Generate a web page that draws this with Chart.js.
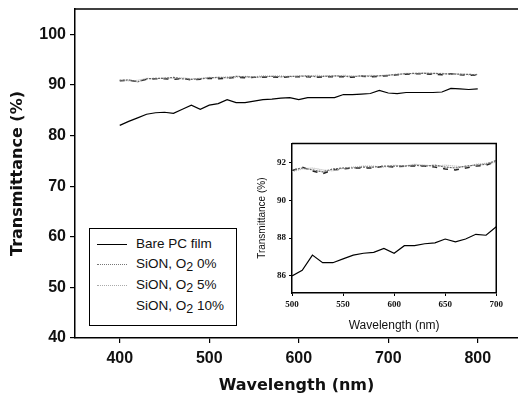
<!DOCTYPE html>
<html>
<head>
<meta charset="utf-8">
<script src="https://cdn.jsdelivr.net/npm/chart.js"></script>
<style>
  body { margin: 0; background: #fff; }
  #wrap { position: relative; width: 518px; height: 404px; overflow: hidden; }
  #mainChart { position: absolute; left: 0; top: 0; }
  #insetChart { position: absolute; left: 252px; top: 135px; background: #fff; }
  #legend {
    position: absolute; left: 89px; top: 228px; width: 146px; height: 96px;
    border: 1.5px solid #000; background: #fff;
    font-family: "Liberation Sans", Arial, sans-serif; font-size: 13.5px; color: #111;
  }
  .row { position: absolute; left: 0; height: 16px; line-height: 16px; white-space: nowrap; }
  .sample { position: absolute; left: 7px; top: 8px; width: 30px; height: 0; }
  .label { position: absolute; left: 46px; top: 0; }
  .label sub { font-size: 12.5px; vertical-align: -3px; line-height: 0; }
</style>
</head>
<body>
<div id="wrap">
  <canvas id="mainChart" width="518" height="404"></canvas>
  <canvas id="insetChart" width="254" height="202"></canvas>
  <div id="legend"></div>
</div>
<script>
// main plot
const mainWl = [400, 410, 420, 430, 440, 450, 460, 470, 480, 490, 500, 510, 520, 530, 540, 550, 560, 570, 580, 590, 600,
                610, 620, 630, 640, 650, 660, 670, 680, 690, 700, 710, 720, 730, 740, 750, 760, 770, 780, 790, 800];
const mainBare = [82.0, 82.8, 83.5, 84.2, 84.5, 84.6, 84.4, 85.2, 86.0, 85.2, 86.0, 86.3, 87.1, 86.5, 86.5, 86.8, 87.1, 87.2, 87.4, 87.5, 87.1,
                  87.5, 87.5, 87.5, 87.5, 88.1, 88.1, 88.2, 88.3, 88.9, 88.4, 88.3, 88.5, 88.5, 88.5, 88.5, 88.6, 89.3, 89.2, 89.1, 89.2];
const mainSiON0 = [90.9, 91.0, 90.6, 91.2, 91.3, 91.3, 91.5, 91.2, 91.1, 91.2, 91.4, 91.5, 91.4, 91.7, 91.6, 91.5, 91.6, 91.7, 91.6, 91.7, 91.7,
                   91.8, 91.6, 91.7, 91.8, 91.7, 91.6, 91.8, 91.7, 91.8, 91.9, 92.1, 92.2, 92.3, 92.3, 92.3, 92.2, 92.2, 92.1, 92.1, 92.0];
const mainSiON5 = [91.0, 90.8, 90.9, 91.3, 91.2, 91.4, 91.3, 91.4, 91.2, 91.3, 91.5, 91.4, 91.6, 91.5, 91.7, 91.6, 91.8, 91.7, 91.8, 91.6, 91.8,
                   91.7, 91.9, 91.8, 91.7, 91.9, 91.8, 91.7, 91.9, 91.8, 92.0, 92.0, 92.3, 92.2, 92.4, 92.2, 92.3, 92.1, 92.2, 92.0, 92.1];
const mainSiON10 = [90.8, 90.9, 90.7, 91.1, 91.2, 91.2, 91.1, 91.3, 91.0, 91.1, 91.3, 91.2, 91.3, 91.5, 91.4, 91.5, 91.5, 91.6, 91.5, 91.6, 91.6,
                    91.6, 91.5, 91.6, 91.6, 91.6, 91.5, 91.7, 91.6, 91.7, 91.8, 92.0, 92.1, 92.2, 92.2, 92.1, 92.0, 92.2, 92.0, 91.9, 92.0];
const mainXTicks = [400, 500, 600, 700, 800];
const mainYTicks = [40, 50, 60, 70, 80, 90, 100];

// inset (500-700 nm zoom)
const insetWl = [500, 510, 520, 530, 540, 550, 560, 570, 580, 590, 600, 610, 620, 630, 640, 650, 660, 670, 680, 690, 700];
const insetBare = [86.0, 86.3, 87.1, 86.7, 86.7, 86.9, 87.1, 87.2, 87.25, 87.45, 87.2, 87.6, 87.6, 87.7, 87.75, 87.95, 87.8, 87.95, 88.2, 88.15, 88.6];
const insetSiON0 = [91.6, 91.7, 91.6, 91.5, 91.65, 91.7, 91.7, 91.75, 91.75, 91.8, 91.8, 91.8, 91.85, 91.8, 91.85, 91.75, 91.7, 91.8, 91.85, 91.9, 92.1];
const insetSiON5 = [91.5, 91.65, 91.7, 91.6, 91.55, 91.7, 91.75, 91.8, 91.8, 91.75, 91.85, 91.8, 91.9, 91.85, 91.8, 91.85, 91.8, 91.75, 91.9, 91.95, 92.0];
const insetSiON10 = [91.55, 91.75, 91.55, 91.4, 91.6, 91.65, 91.7, 91.7, 91.7, 91.8, 91.75, 91.8, 91.8, 91.8, 91.75, 91.65, 91.6, 91.7, 91.8, 91.85, 92.05];
const insetXTicks = [500, 550, 600, 650, 700];
const insetYTicks = [86, 88, 90, 92];

const seriesNames = ["Bare PC film", "SiON, O\u2082 0%", "SiON, O\u2082 5%", "SiON, O\u2082 10%"];
const legendHtml = ["Bare PC film", "SiON, O<sub>2</sub> 0%", "SiON, O<sub>2</sub> 5%", "SiON, O<sub>2</sub> 10%"];

const styles = [
    { color: "#000", dash: [], width: 1.2, sample: "1px solid #000" },
    { color: "#666", dash: [2, 1], width: 1.2, sample: "1px dotted #777" },
    { color: "#b0b0b0", dash: [1, 1], width: 1.2, sample: "1px dotted #aaa" },
    { color: "#222", dash: [5, 6], width: 1.5, sample: "none" }
];

function pts(xs, ys) {
    return xs.map((x, i) => ({ x: x, y: ys[i] }));
}

function makeSets(xs, lists) {
    return lists.map((ys, i) => ({
        label: seriesNames[i],
        data: pts(xs, ys),
        borderColor: styles[i].color,
        borderDash: styles[i].dash,
        borderWidth: styles[i].width,
        pointRadius: 0,
        tension: 0,
        fill: false
    }));
}

// draws the plot frame lines Chart.js doesn't give us
function framePlugin(allSides) {
    return {
        id: "frame",
        afterDraw(chart) {
            const a = chart.chartArea;
            const c = chart.ctx;
            c.save();
            c.strokeStyle = "#000";
            c.lineWidth = 1.5;
            c.beginPath();
            c.moveTo(a.left, a.top);
            c.lineTo(a.right, a.top);
            if (allSides) {
                c.lineTo(a.right, a.bottom);
            }
            c.stroke();
            c.restore();
        }
    };
}

const bold16 = { family: "'Liberation Sans', Arial, sans-serif", size: 16, weight: "bold" };

new Chart(document.getElementById("mainChart"), {
    type: "line",
    data: { datasets: makeSets(mainWl, [mainBare, mainSiON0, mainSiON5, mainSiON10]) },
    options: {
        responsive: false,
        animation: false,
        devicePixelRatio: 1,
        layout: { padding: { top: 9, right: 0, left: 0, bottom: 0 } },
        plugins: { legend: { display: false }, tooltip: { enabled: false } },
        scales: {
            x: {
                type: "linear",
                min: 350,
                max: 845,
                afterBuildTicks: s => { s.ticks = mainXTicks.map(v => ({ value: v })); },
                afterFit: s => { s.height = 66; s.paddingLeft = 0; s.paddingRight = 0; },
                grid: { drawOnChartArea: false, color: "#000", tickLength: 5, lineWidth: 1.2 },
                border: { color: "#000", width: 1.5 },
                ticks: { color: "#111", font: bold16, padding: 6, maxRotation: 0 },
                title: {
                    display: true, text: "Wavelength (nm)", color: "#111",
                    font: { family: "'DejaVu Sans', sans-serif", size: 16, weight: "bold" },
                    padding: { top: 4, bottom: 9 }
                }
            },
            y: {
                min: 40,
                max: 105,
                afterBuildTicks: s => { s.ticks = mainYTicks.map(v => ({ value: v })); },
                afterFit: s => { s.width = 75; s.paddingTop = 0; s.paddingBottom = 0; },
                grid: { drawOnChartArea: false, color: "#000", tickLength: 5, lineWidth: 1.2 },
                border: { color: "#000", width: 1.5 },
                ticks: { color: "#111", font: bold16, padding: 4 },
                title: {
                    display: true, text: "Transmittance (%)", color: "#111",
                    font: { family: "'DejaVu Sans', sans-serif", size: 16, weight: "bold" },
                    padding: { top: 8, bottom: 8 }
                }
            }
        }
    },
    plugins: [framePlugin(false)]
});

const insetTickFont = { family: "'Liberation Serif', serif", size: 9, weight: "bold" };

new Chart(document.getElementById("insetChart"), {
    type: "line",
    data: { datasets: makeSets(insetWl, [insetBare, insetSiON0, insetSiON5, insetSiON10]) },
    options: {
        responsive: false,
        animation: false,
        devicePixelRatio: 1,
        layout: { padding: { top: 5, right: 6, left: 0, bottom: 0 } },
        plugins: { legend: { display: false }, tooltip: { enabled: false } },
        scales: {
            x: {
                type: "linear",
                min: 500,
                max: 700,
                afterBuildTicks: s => { s.ticks = insetXTicks.map(v => ({ value: v })); },
                afterFit: s => { s.height = 44; },
                grid: { drawOnChartArea: false, color: "#000", tickLength: 3 },
                border: { color: "#000", width: 1.5 },
                ticks: { color: "#111", font: insetTickFont, padding: 3, maxRotation: 0 },
                title: {
                    display: true, text: "Wavelength (nm)", color: "#111",
                    font: { family: "'Liberation Sans', Arial, sans-serif", size: 12 },
                    padding: { top: 2, bottom: 4 }
                }
            },
            y: {
                min: 85.1,
                max: 93,
                afterBuildTicks: s => { s.ticks = insetYTicks.map(v => ({ value: v })); },
                afterFit: s => { s.width = 40; },
                grid: { drawOnChartArea: false, color: "#000", tickLength: 3 },
                border: { color: "#000", width: 1.5 },
                ticks: { color: "#111", font: insetTickFont, padding: 3 },
                title: {
                    display: true, text: "Transmittance (%)", color: "#111",
                    font: { family: "'Liberation Sans', Arial, sans-serif", size: 10 },
                    padding: { top: 4, bottom: 4 }
                }
            }
        }
    },
    plugins: [framePlugin(true)]
});

// legend box as html so the subscript 2 renders properly
const legend = document.getElementById("legend");
const rowTops = [7, 27, 48, 69];
legendHtml.forEach((txt, i) => {
    const row = document.createElement("div");
    row.className = "row";
    row.style.top = rowTops[i] + "px";
    const sample = document.createElement("div");
    sample.className = "sample";
    sample.style.borderTop = styles[i].sample;
    const label = document.createElement("div");
    label.className = "label";
    label.innerHTML = txt;
    row.appendChild(sample);
    row.appendChild(label);
    legend.appendChild(row);
});
</script>
</body>
</html>
